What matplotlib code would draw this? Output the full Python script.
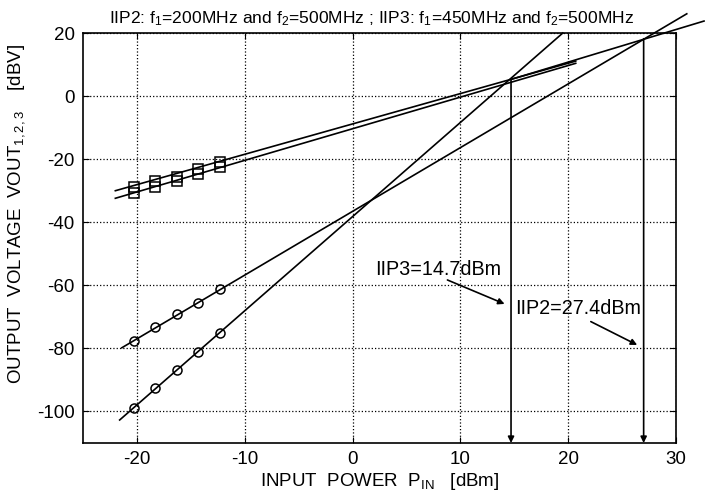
import matplotlib
matplotlib.use("Agg")
import matplotlib.pyplot as plt

plt.rcParams['font.family'] = ['Liberation Sans', 'DejaVu Sans']
plt.rcParams['mathtext.fontset'] = 'custom'
plt.rcParams['mathtext.rm'] = 'Liberation Sans'
plt.rcParams['mathtext.it'] = 'Liberation Sans'
plt.rcParams['axes.unicode_minus'] = False

# measured points (input power, dBm)
pin = [-20.3, -18.3, -16.3, -14.3, -12.3]
fund_hi = [-28.7, -26.8, -25.6, -23.1, -21.0]
fund_lo = [-30.8, -28.9, -26.8, -24.7, -22.6]
im2 = [-77.6, -73.3, -69.2, -65.5, -61.3]
im3 = [-98.8, -92.7, -86.8, -81.0, -75.0]

# fitted lines (end points)
fund_line_x = [-22.0, 20.7]
fund_hi_line_y = [-30.0, 11.1]
fund_lo_line_y = [-32.4, 10.4]
fund_ext_x = [14.7, 32.6]
fund_ext_y = [5.3, 23.8]
im2_line_x = [-21.4, 31.0]
im2_line_y = [-79.8, 26.1]
im3_line_x = [-21.6, 19.5]
im3_line_y = [-102.7, 20.0]

# intercept points
iip3_x, iip3_y = 14.7, 5.3
iip2_x, iip2_y = 27.0, 18.2

fig = plt.figure(figsize=(7.1, 4.99), dpi=100)
ax = fig.add_axes([0.1169, 0.1122, 0.8352, 0.8216])

fs = 13.5
lw = 1.2

ax.plot(fund_line_x, fund_hi_line_y, color='black', lw=lw)
ax.plot(fund_line_x, fund_lo_line_y, color='black', lw=lw)
ax.plot(fund_ext_x, fund_ext_y, color='black', lw=lw, clip_on=False)
ax.plot(im2_line_x, im2_line_y, color='black', lw=lw, clip_on=False)
ax.plot(im3_line_x, im3_line_y, color='black', lw=lw, clip_on=False)

ax.plot(pin, fund_hi, 's', mfc='none', mec='black', ms=7, mew=1.1)
ax.plot(pin, fund_lo, 's', mfc='none', mec='black', ms=7, mew=1.1)
ax.plot(pin, im2, 'o', mfc='none', mec='black', ms=6.5, mew=1.1)
ax.plot(pin, im3, 'o', mfc='none', mec='black', ms=6.5, mew=1.1)

# vertical arrows down to the x axis
for xv, yv in [(iip3_x, iip3_y), (iip2_x, iip2_y)]:
    ax.annotate('', xy=(xv, -110), xytext=(xv, yv),
                arrowprops=dict(arrowstyle='-|>', color='black', lw=lw,
                                mutation_scale=9, shrinkA=0, shrinkB=0))

ax.text(2.1, -54.9, 'IIP3=14.7dBm', fontsize=14.2, va='center', ha='left')
ax.annotate('', xy=(14.1, -65.9), xytext=(8.8, -58.3),
            arrowprops=dict(arrowstyle='-|>', color='black', lw=lw,
                            mutation_scale=9, shrinkA=0, shrinkB=0))
ax.text(15.1, -67.5, 'IIP2=27.4dBm', fontsize=14.2, va='center', ha='left')
ax.annotate('', xy=(26.4, -78.9), xytext=(22.1, -71.5),
            arrowprops=dict(arrowstyle='-|>', color='black', lw=lw,
                            mutation_scale=9, shrinkA=0, shrinkB=0))

ax.set_xlim(-25, 30)
ax.set_ylim(-110, 20)
ax.set_xticks([-20, -10, 0, 10, 20, 30])
ax.set_yticks([-100, -80, -60, -40, -20, 0, 20])
ax.grid(True, color='black', linestyle=':', lw=0.9)
ax.tick_params(direction='in', length=4, top=True, right=True, labelsize=fs, pad=6)
for s in ax.spines.values():
    s.set_linewidth(1.2)

ax.set_title(r'IIP2: f$_1$=200MHz and f$_2$=500MHz ; IIP3: f$_1$=450MHz and f$_2$=500MHz',
             fontsize=12.6, pad=7)
ax.title.set_x(0.487)
ax.set_xlabel(r'INPUT  POWER  P$_{\mathrm{IN}}$   [dBm]', fontsize=fs, labelpad=2)
ax.set_ylabel(r'OUTPUT  VOLTAGE  VOUT$_{1,2,3}$    [dBV]', fontsize=fs)
ax.yaxis.set_label_coords(-0.095, 0.56)

fig.savefig('out.png', dpi=100)
